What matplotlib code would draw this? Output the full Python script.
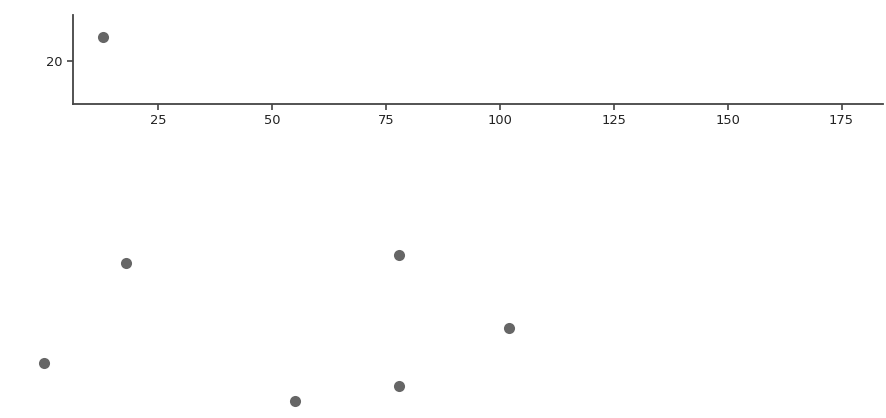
import matplotlib
matplotlib.use("Agg")
import matplotlib.pyplot as plt

x_vals = [13, 18, 0, 55, 78, 78, 102]
y_vals = [21.2, 9.9, 4.9, 3.0, 10.3, 3.75, 6.65]
x_ticks = [25, 50, 75, 100, 125, 150, 175]
y_ticks = [20]

W, H = 886, 418
fig = plt.figure(figsize=(W / 100, H / 100), dpi=100)
left, right, top, bottom = 73, 883, 15, 104
ax = fig.add_axes([left / W, 1 - bottom / H, (right - left) / W, (bottom - top) / H])

ax.scatter(x_vals, y_vals, s=64, color="#666666", clip_on=False, zorder=3, linewidths=0)
ax.set_xlim(6.37, 184.1)
ax.set_ylim(17.85, 22.3)
ax.set_xticks(x_ticks)
ax.set_yticks(y_ticks)
for s in ["top", "right"]:
    ax.spines[s].set_visible(False)
for s in ["left", "bottom"]:
    ax.spines[s].set_color("#444444")
    ax.spines[s].set_linewidth(1.3)
ax.tick_params(length=4, width=1.2, color="#444444", labelsize=9.4, labelcolor="#222222", pad=3.5)

fig.savefig("out.png", dpi=100)
